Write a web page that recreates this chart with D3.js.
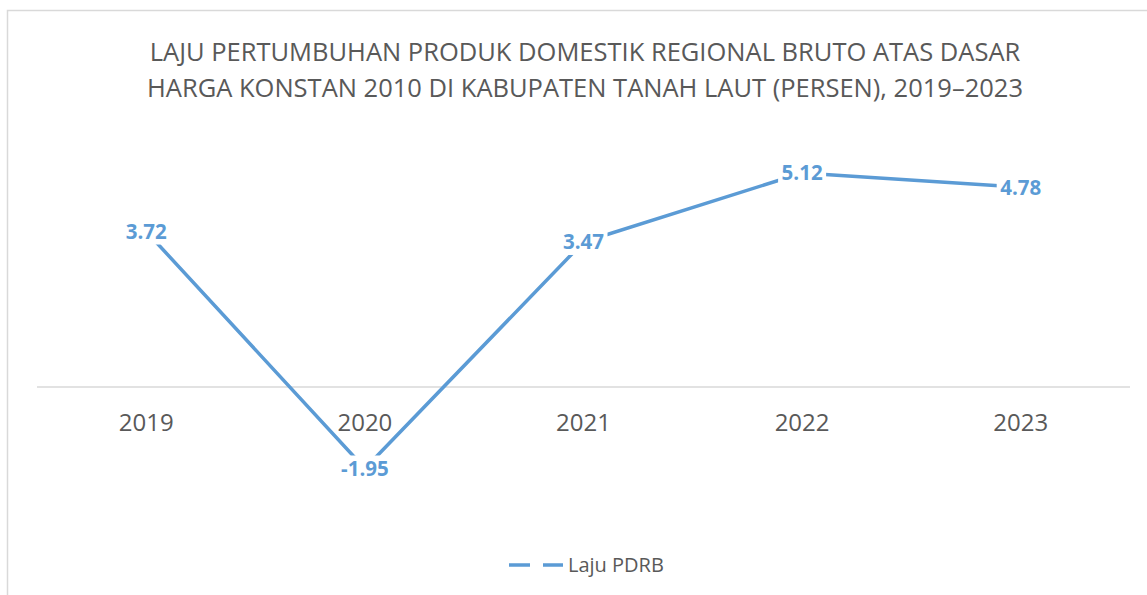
<!DOCTYPE html>
<html>
<head>
<meta charset="utf-8">
<script src="https://cdn.jsdelivr.net/npm/d3@7"></script>
<style>
  body { margin: 0; background: #fff; }
  #chart { width: 1147px; height: 595px; }
  text { font-family: "Open Sans", "Noto Sans", sans-serif; }
</style>
</head>
<body>
<div id="chart"></div>
<script>
const years = ['2019', '2020', '2021', '2022', '2023']
const growth = [3.72, -1.95, 3.47, 5.12, 4.78]
const titleLines = [
    'LAJU PERTUMBUHAN PRODUK DOMESTIK REGIONAL BRUTO ATAS DASAR',
    'HARGA KONSTAN 2010 DI KABUPATEN TANAH LAUT (PERSEN), 2019–2023'
]
const seriesName = 'Laju PDRB'

const width = 1147, height = 595
const color = '#5b9bd5'

const svg = d3.select('#chart').append('svg')
    .attr('width', width).attr('height', height)

// chart frame
svg.append('rect')
    .attr('x', 7.5).attr('y', 10.5)
    .attr('width', 1150).attr('height', 600)
    .attr('fill', '#fff').attr('stroke', '#d9d9d9').attr('stroke-width', 1.5)

svg.selectAll('.title')
    .data(titleLines)
    .enter().append('text')
    .attr('class', 'title')
    .attr('x', 585)
    .attr('y', (d, i) => 61 + i * 36)
    .attr('text-anchor', 'middle')
    .style('font-size', '25.5px')
    .style('fill', '#595959')
    .text(d => d)

const x = d3.scaleBand()
    .domain(years)
    .range([37, 1130])

const y = d3.scaleLinear()
    .domain([0, 5.12])
    .range([387, 173])

// zero line
svg.append('line')
    .attr('x1', x.range()[0]).attr('x2', x.range()[1])
    .attr('y1', y(0)).attr('y2', y(0))
    .attr('stroke', '#d9d9d9').attr('stroke-width', 1.5)

// category labels
svg.append('g')
    .selectAll('text')
    .data(years)
    .enter().append('text')
    .attr('x', d => x(d) + x.bandwidth() / 2)
    .attr('y', y(0) + 44)
    .attr('text-anchor', 'middle')
    .style('font-size', '24px')
    .style('fill', '#595959')
    .text(d => d)

const line = d3.line()
    .x((d, i) => x(years[i]) + x.bandwidth() / 2)
    .y(d => y(d))

svg.append('path')
    .datum(growth)
    .attr('d', line)
    .attr('fill', 'none')
    .attr('stroke', color)
    .attr('stroke-width', 3.5)
    .attr('stroke-linejoin', 'round')

// data labels sit on the points with a white box behind
const labels = svg.append('g')
    .selectAll('g')
    .data(growth)
    .enter().append('g')
    .attr('transform', (d, i) => `translate(${x(years[i]) + x.bandwidth() / 2},${y(d)})`)

labels.append('rect')
    .attr('x', d => d < 0 ? -29 : -24).attr('y', -13)
    .attr('width', d => d < 0 ? 58 : 48).attr('height', 26)
    .attr('fill', '#fff')

labels.append('text')
    .attr('text-anchor', 'middle')
    .attr('dy', '0.36em')
    .style('font-size', '20.5px')
    .style('font-weight', 'bold')
    .style('fill', color)
    .text(d => d.toFixed(2))

// legend
const legend = svg.append('g').attr('transform', 'translate(509,565)')
legend.append('line')
    .attr('x1', 0).attr('x2', 54)
    .attr('y1', 0).attr('y2', 0)
    .attr('stroke', color).attr('stroke-width', 3.5)
    .attr('stroke-dasharray', '21,13')
legend.append('text')
    .attr('x', 59).attr('y', 0)
    .attr('dy', '0.35em')
    .style('font-size', '20px')
    .style('fill', '#595959')
    .text(seriesName)
</script>
</body>
</html>
